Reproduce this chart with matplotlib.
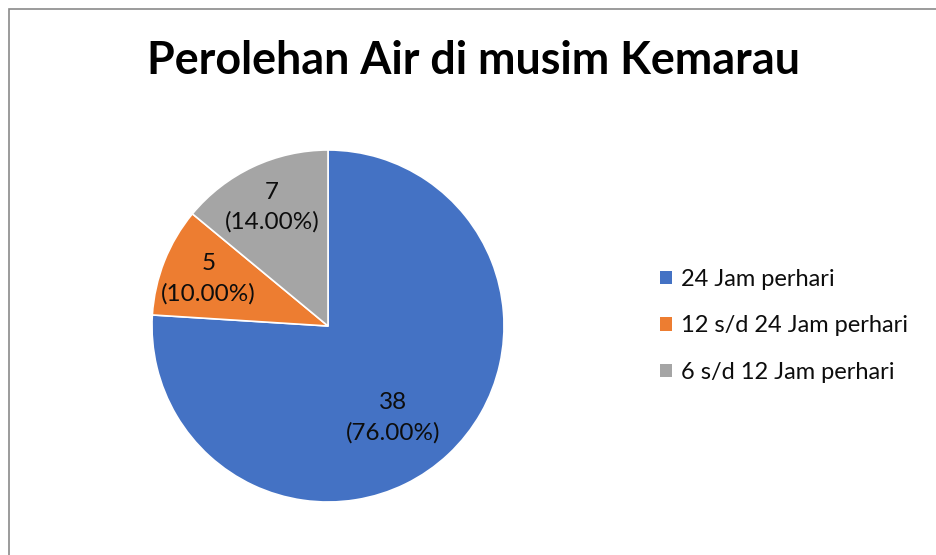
import matplotlib
matplotlib.use("Agg")
import matplotlib.pyplot as plt
import numpy as np
from matplotlib.patches import Rectangle

categories = ["24 Jam perhari", "12 s/d 24 Jam perhari", "6 s/d 12 Jam perhari"]
values = [38, 5, 7]
colors = ["#4472C4", "#ED7D31", "#A5A5A5"]
title = "Perolehan Air di musim Kemarau"

plt.rcParams['font.family'] = ['Lato', 'DejaVu Sans']

W, H = 937, 555
fig = plt.figure(figsize=(W/100, H/100), dpi=100)
fig.patch.set_facecolor("white")

# outer border (chart area)
fig.add_artist(Rectangle((9/W, -0.1), 1.2, (H-9)/H + 0.1, transform=fig.transFigure,
                         fill=False, edgecolor="#8a8a8a", linewidth=1.2))

cx, cy, r = 328, 326, 176
ax = fig.add_axes([(cx-r)/W, (H-cy-r)/H, 2*r/W, 2*r/H])
total = sum(values)
wedges, texts = ax.pie(
    values, colors=colors, startangle=90, counterclock=False,
    wedgeprops=dict(edgecolor="white", linewidth=1.2), radius=1.0)

# data labels (best-fit style placement)
label_dist = [0.64, 0.73, 0.745]
label_angle_shift = [-7.7, 0.0, 0.0]
for w, v, d, s in zip(wedges, values, label_dist, label_angle_shift):
    ang = np.deg2rad((w.theta1 + w.theta2) / 2 + s)
    ax.text(d*np.cos(ang), d*np.sin(ang), f"{v}\n({v/total*100:.2f}%)",
            ha="center", va="center", fontsize=17.5, color="#0d0d0d",
            linespacing=1.5, multialignment="center")

ax.set_xlim(-1, 1)
ax.set_ylim(-1, 1)
ax.set_aspect("equal")
ax.axis("off")

fig.text(474/W, 1-61/H, title, ha="center", va="center", fontsize=32.3,
         fontweight="bold", color="#000000")

handles = [Rectangle((0, 0), 1, 1, facecolor=c, edgecolor="none") for c in colors]
leg = fig.legend(handles, categories, loc="center left", bbox_to_anchor=(660/W, 1-326/H),
                 frameon=False, fontsize=17, handlelength=0.5, handleheight=0.5,
                 handletextpad=0.4, labelspacing=1.08, borderpad=0, borderaxespad=0,
                 labelcolor="#0d0d0d")

fig.savefig("out.png", dpi=100, facecolor="white")
